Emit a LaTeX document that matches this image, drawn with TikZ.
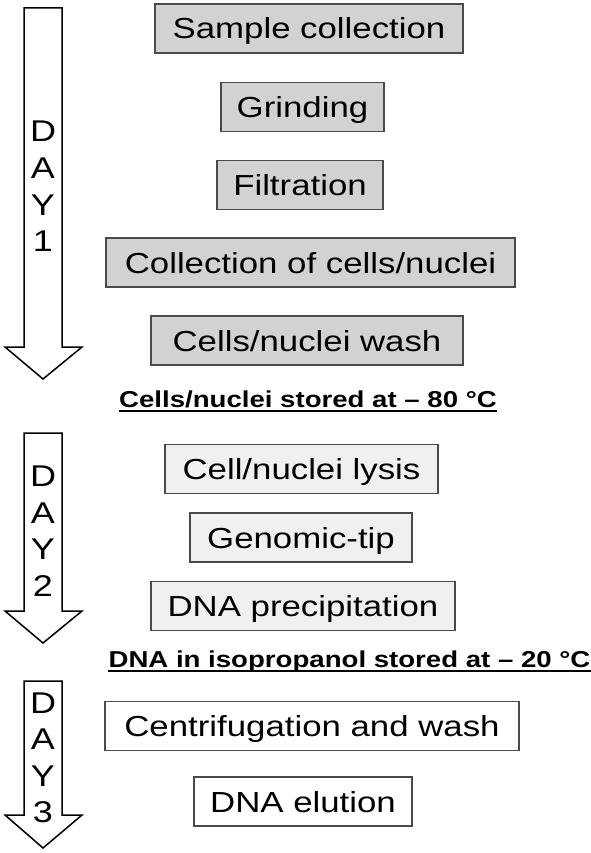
\documentclass[tikz,border=0pt]{standalone}
\usepackage{fontspec}
\newfontfamily\flowfont{Liberation Sans}[FakeStretch=1.2]
\usepackage{xcolor}
\usepackage{tikz}
\usetikzlibrary{positioning, calc}

\definecolor{dayonefill}{HTML}{D2D2D2}
\definecolor{daytwofill}{HTML}{F0F0F0}
\definecolor{boxline}{HTML}{4A4A4A}

\tikzset{
  stepbox/.style={
    draw=boxline, line width=1.6pt, align=center,
    font=\flowfont\fontsize{29}{34}\selectfont,
    minimum height=49pt, text height=21pt, text depth=0pt, inner sep=0pt
  },
  storelabel/.style={
    font=\flowfont\bfseries\fontsize{23}{28}\selectfont,
    inner sep=0pt, anchor=base
  },
  dayarrow/.style={draw=black, line width=1.5pt, fill=white, line join=miter},
  dayletter/.style={
    font=\flowfont\fontsize{30}{34}\selectfont,
    text height=22pt, text depth=0pt, inner sep=0pt
  },
}

\begin{document}
\begin{tikzpicture}[x=1pt, y=-1pt]
  \useasboundingbox (0,0) rectangle (590,853);

  % === Day arrows ===
  \foreach \n/\top/\base/\tip/\first in {1/8/347/379/131, 2/433/611/643/475.5, 3/681/815/848/702} {
    \draw[dayarrow] (24,\top) -- (62,\top) -- (62,\base) -- (82,\base) -- (43,\tip)
      -- (5,\base) -- (24,\base) -- cycle;
    \foreach \c [count=\i from 0] in {D,A,Y,\n}
      \node[dayletter] (day\n-\i) at (43,\first+36.5*\i) {\c};
  }

  % === Day 1 ===
  \node[stepbox, fill=dayonefill, minimum width=308pt] (sample) at (309,28.5) {Sample collection};
  \node[stepbox, fill=dayonefill, minimum width=163pt] (grinding) at (302.5,107) {Grinding};
  \node[stepbox, fill=dayonefill, minimum width=166pt] (filtration) at (300,185) {Filtration};
  \node[stepbox, fill=dayonefill, minimum width=409pt] (collection) at (310.5,262.5) {Collection of cells/nuclei};
  \node[stepbox, fill=dayonefill, minimum width=312pt] (wash) at (307,340.5) {Cells/nuclei wash};

  \node[storelabel] (store80) at (308,407) {Cells/nuclei stored at – 80 °C};
  \draw[line width=2pt] ([yshift=-3.5pt]store80.base west) -- ([yshift=-3.5pt]store80.base east);

  % === Day 2 ===
  \node[stepbox, fill=daytwofill, minimum width=273pt] (lysis) at (301.5,469) {Cell/nuclei lysis};
  \node[stepbox, fill=daytwofill, minimum width=222pt] (tip) at (301,537.5) {Genomic-tip};
  \node[stepbox, fill=daytwofill, minimum width=304pt] (precip) at (303,606) {DNA precipitation};

  \node[storelabel] (store20) at (349.5,667) {DNA in isopropanol stored at – 20 °C};
  \draw[line width=2pt] ([yshift=-4pt]store20.base west) -- ([yshift=-4pt]store20.base east);

  % === Day 3 ===
  \node[stepbox, fill=white, minimum width=414pt] (centrif) at (312,726) {Centrifugation and wash};
  \node[stepbox, fill=white, minimum width=218pt] (elution) at (303,801.5) {DNA elution};

\end{tikzpicture}
\end{document}
